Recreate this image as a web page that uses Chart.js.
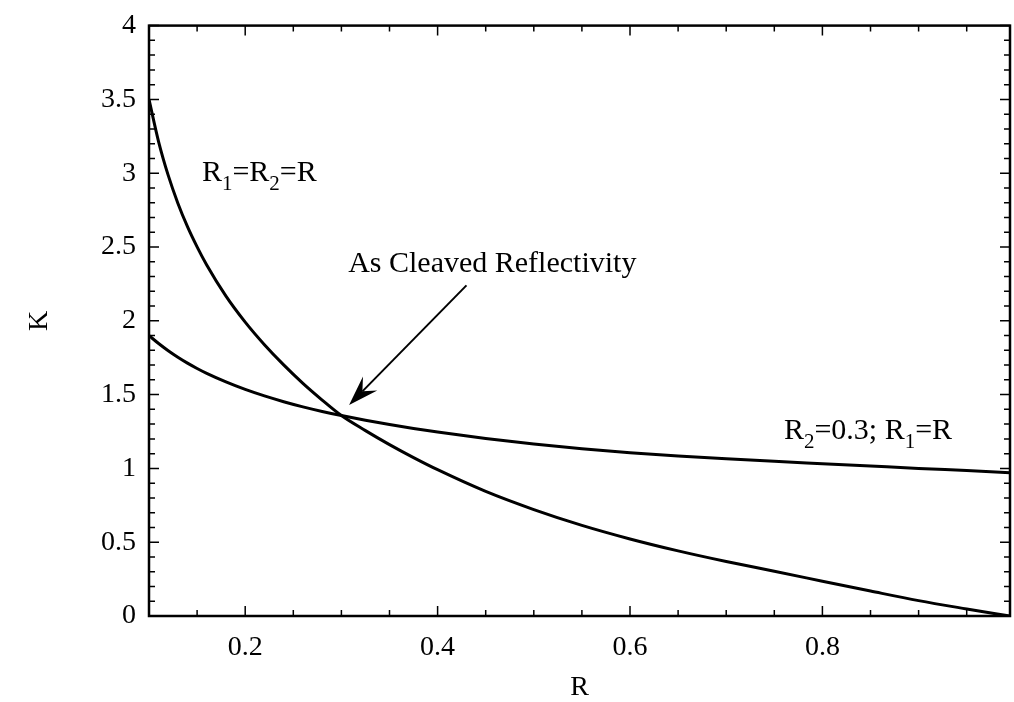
<!DOCTYPE html>
<html>
<head>
<meta charset="utf-8">
<script src="https://cdn.jsdelivr.net/npm/chart.js@4.4.1/dist/chart.umd.min.js"></script>
<style>
  html, body { margin: 0; padding: 0; background: #fff; }
  #wrap { width: 1014px; height: 702px; }
</style>
</head>
<body>
<div id="wrap"><canvas id="chart" width="1014" height="702"></canvas></div>
<script>
// Facet reflectivity R and the factor K for two mirror configurations
const reflectivity = [0.1, 0.11, 0.12, 0.13, 0.14, 0.15, 0.16, 0.18, 0.2, 0.22, 0.24, 0.26, 0.28, 0.3,
  0.325, 0.35, 0.375, 0.4, 0.45, 0.5, 0.55, 0.6, 0.65, 0.7, 0.75, 0.8, 0.85, 0.9, 0.95, 0.995];

// R1 = R2 = R
const kEqualFacets = [3.5, 3.213, 2.985, 2.797, 2.638, 2.501, 2.378, 2.167, 1.991, 1.838, 1.701, 1.576, 1.463, 1.358,
  1.256, 1.161, 1.073, 0.991, 0.844, 0.721, 0.614, 0.522, 0.441, 0.369, 0.303, 0.236, 0.169, 0.104, 0.048, 0.0];

// R2 = 0.3, R1 = R
const kFixedRear = [1.9, 1.846, 1.797, 1.753, 1.713, 1.677, 1.644, 1.586, 1.535, 1.491, 1.452, 1.417, 1.386, 1.358,
  1.326, 1.297, 1.271, 1.247, 1.203, 1.165, 1.133, 1.106, 1.084, 1.065, 1.048, 1.032, 1.016, 1.0, 0.985, 0.971];

const xTickValues = [0.2, 0.4, 0.6, 0.8];
const xTickLabels = ['0.2', '0.4', '0.6', '0.8'];
const yTickValues = [0, 0.5, 1, 1.5, 2, 2.5, 3, 3.5, 4];
const yTickLabels = ['0', '0.5', '1', '1.5', '2', '2.5', '3', '3.5', '4'];

const SERIF = '"Liberation Serif", "Times New Roman", serif';

// Draws text with a lowered, smaller run for each subscript part
function drawSubscripted(ctx, parts, x, y, size) {
  let cx = x;
  for (const p of parts) {
    const sub = p.sub === true;
    ctx.font = (sub ? Math.round(size * 0.7) : size) + 'px ' + SERIF;
    ctx.fillText(p.t, cx, sub ? y + size * 0.3 : y);
    cx += ctx.measureText(p.t).width;
  }
}

// Box frame, inward ticks on all four sides, curve labels and the arrow
const framePlugin = {
  id: 'frameAndNotes',
  afterDraw(chart) {
    const { ctx, chartArea: a, scales: { x, y } } = chart;
    ctx.save();
    ctx.strokeStyle = '#000';
    ctx.fillStyle = '#000';

    // ticks
    ctx.lineWidth = 1.5;
    const majorLen = 10, minorLen = 6;
    ctx.beginPath();
    for (let i = 0; i <= 40; i++) {
      const py = y.getPixelForValue(i / 10);
      const len = (i % 5 === 0) ? majorLen : minorLen;
      ctx.moveTo(a.left, py); ctx.lineTo(a.left + len, py);
      ctx.moveTo(a.right, py); ctx.lineTo(a.right - len, py);
    }
    for (let i = 2; i <= 19; i++) {
      const px = x.getPixelForValue(i / 20);
      if (px > a.right - 1) continue;
      const len = (i % 4 === 0) ? majorLen : minorLen;
      ctx.moveTo(px, a.bottom); ctx.lineTo(px, a.bottom - len);
      ctx.moveTo(px, a.top); ctx.lineTo(px, a.top + len);
    }
    ctx.stroke();

    // frame
    ctx.lineWidth = 2.5;
    ctx.strokeRect(a.left, a.top, a.right - a.left, a.bottom - a.top);

    // curve labels
    ctx.textBaseline = 'alphabetic';
    ctx.textAlign = 'left';
    const size = 30;
    drawSubscripted(ctx, [{ t: 'R' }, { t: '1', sub: true }, { t: '=R' }, { t: '2', sub: true }, { t: '=R' }],
      x.getPixelForValue(0.155), y.getPixelForValue(2.95), size);
    drawSubscripted(ctx, [{ t: 'R' }, { t: '2', sub: true }, { t: '=0.3; R' }, { t: '1', sub: true }, { t: '=R' }],
      x.getPixelForValue(0.76), y.getPixelForValue(1.2), size);
    ctx.font = size + 'px ' + SERIF;
    ctx.fillText('As Cleaved Reflectivity', x.getPixelForValue(0.307), y.getPixelForValue(2.33));

    // arrow toward the crossing at R = 0.3
    const tx = x.getPixelForValue(0.308), ty = y.getPixelForValue(1.43);
    const sx = x.getPixelForValue(0.43), sy = y.getPixelForValue(2.24);
    const ang = Math.atan2(ty - sy, tx - sx);
    const ux = Math.cos(ang), uy = Math.sin(ang);
    const nx = -uy, ny = ux;
    const headLen = 30, headHalf = 10, notch = 19;
    ctx.lineWidth = 2;
    ctx.beginPath();
    ctx.moveTo(sx, sy);
    ctx.lineTo(tx - ux * notch, ty - uy * notch);
    ctx.stroke();
    ctx.beginPath();
    ctx.moveTo(tx, ty);
    ctx.lineTo(tx - ux * headLen + nx * headHalf, ty - uy * headLen + ny * headHalf);
    ctx.lineTo(tx - ux * notch, ty - uy * notch);
    ctx.lineTo(tx - ux * headLen - nx * headHalf, ty - uy * headLen - ny * headHalf);
    ctx.closePath();
    ctx.fill();
    ctx.restore();
  }
};

const toPoints = (xs, ys) => xs.map((v, i) => ({ x: v, y: ys[i] }));

new Chart(document.getElementById('chart'), {
  type: 'line',
  data: {
    datasets: [
      {
        label: 'R1=R2=R',
        data: toPoints(reflectivity, kEqualFacets),
        borderColor: '#000', borderWidth: 3, pointRadius: 0,
        cubicInterpolationMode: 'monotone', fill: false
      },
      {
        label: 'R2=0.3; R1=R',
        data: toPoints(reflectivity, kFixedRear),
        borderColor: '#000', borderWidth: 3, pointRadius: 0,
        cubicInterpolationMode: 'monotone', fill: false
      }
    ]
  },
  options: {
    responsive: false,
    animation: false,
    devicePixelRatio: 1,
    layout: { padding: { left: 0, right: 4, top: 0, bottom: 0 } },
    plugins: { legend: { display: false }, tooltip: { enabled: false } },
    scales: {
      x: {
        type: 'linear', min: 0.1, max: 0.995,
        afterBuildTicks: s => { s.ticks = xTickValues.map(v => ({ value: v })); },
        afterFit: s => { s.height = 86; },
        grid: { display: false, drawTicks: false },
        border: { display: false },
        ticks: {
          autoSkip: false, maxRotation: 0, color: '#000', padding: 15,
          font: { family: SERIF, size: 28 },
          callback: (v, i) => xTickLabels[i]
        },
        title: {
          display: true, text: 'R', color: '#000',
          font: { family: SERIF, size: 28, lineHeight: 1 },
          padding: { top: 0, bottom: 0 }
        }
      },
      y: {
        type: 'linear', min: 0, max: 4,
        afterBuildTicks: s => { s.ticks = yTickValues.map(v => ({ value: v })); },
        afterFit: s => { s.width = 149; },
        grid: { display: false, drawTicks: false },
        border: { display: false },
        ticks: {
          autoSkip: false, color: '#000', padding: 13,
          font: { family: SERIF, size: 28, lineHeight: 0.9 },
          callback: (v, i) => yTickLabels[i]
        },
        title: {
          display: true, text: 'K', color: '#000',
          font: { family: SERIF, size: 28, lineHeight: 1 },
          padding: { top: 26, bottom: 0 }
        }
      }
    }
  },
  plugins: [framePlugin]
});
</script>
</body>
</html>
